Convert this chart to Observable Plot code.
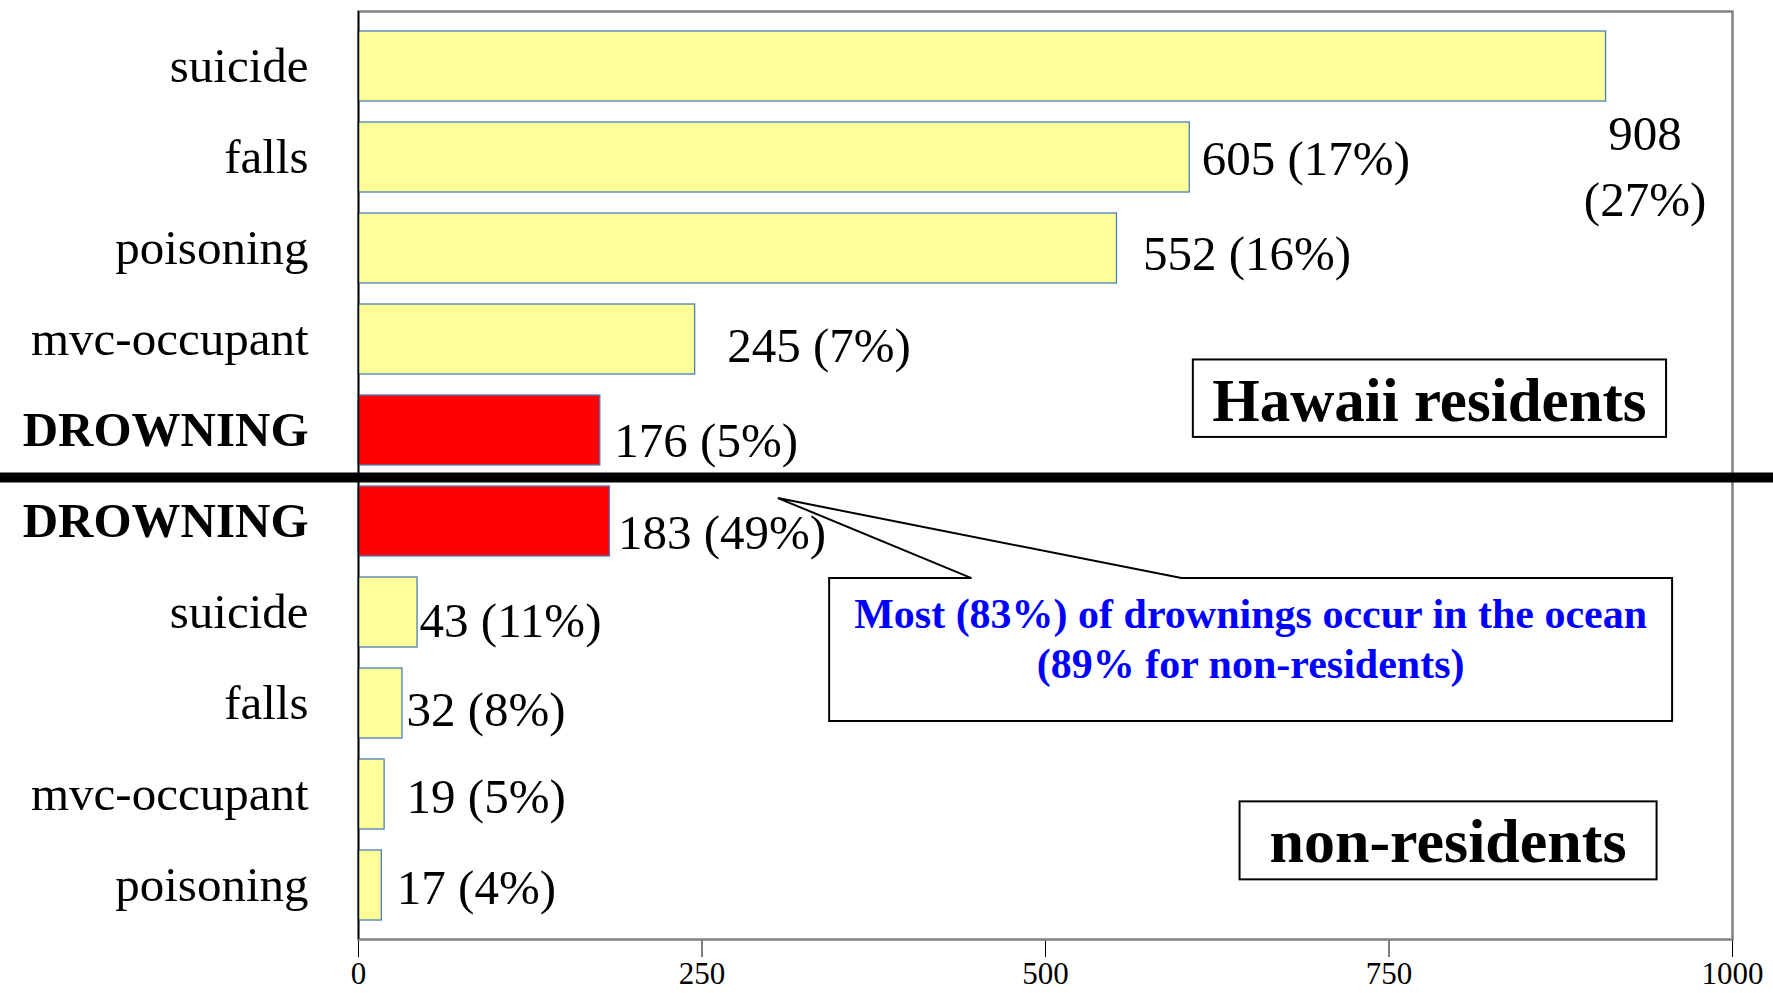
<!DOCTYPE html>
<html>
<head>
<meta charset="utf-8">
<script src="https://cdn.jsdelivr.net/npm/d3@7"></script>
<script src="https://cdn.jsdelivr.net/npm/@observablehq/plot@0.6"></script>
<style>
  html, body { margin: 0; padding: 0; background: #ffffff; }
  svg { display: block; }
</style>
</head>
<body>
<div id="chart"></div>
<script>
// ---- data ----
const residentCauses = ["suicide", "falls", "poisoning", "mvc-occupant", "DROWNING"];
const residentCounts = [908, 605, 552, 245, 176];
const residentPercents = [27, 17, 16, 7, 5];

const nonResidentCauses = ["DROWNING", "suicide", "falls", "mvc-occupant", "poisoning"];
const nonResidentCounts = [183, 43, 32, 19, 17];
const nonResidentPercents = [49, 11, 8, 5, 4];

const xTicks = [0, 250, 500, 750, 1000];
const groupLabels = ["Hawaii residents", "non-residents"];
const noteLines = ["Most (83%) of drownings occur in the ocean", "(89% for non-residents)"];

// ---- table built from the arrays ----
const rows = [
  ...residentCauses.map((c, i) => ({group: "res", cause: c, key: "res|" + c, count: residentCounts[i], pct: residentPercents[i]})),
  ...nonResidentCauses.map((c, i) => ({group: "non", cause: c, key: "non|" + c, count: nonResidentCounts[i], pct: nonResidentPercents[i]}))
];
const keys = rows.map(d => d.key);

// ---- layout (styling only) ----
const FONT = "'Liberation Serif', 'Times New Roman', Times, serif";
const YELLOW = "#ffff99", RED = "#ff0000", EDGE = "#4a7ebb";
// pixel nudges of value labels relative to the bar end / band centre
const labelNudge = [[39, 95], [12, -4], [26, 0], [32, 1], [14, 5], [8, 6], [2, 3], [4, 1], [22, -3], [15, -3]];

function annotations(index, scales, values, dims) {
  const {x, y} = scales;
  const bw = y.bandwidth(), step = y.step();
  const y0 = y(keys[0]) + bw / 2;
  const Y = t => y0 + t * step;          // continuous band index -> pixels
  const g = d3.create("svg:g").attr("font-family", FONT);

  // thick separator between the two groups
  const lastRes = "res|" + residentCauses[residentCauses.length - 1];
  const firstNon = "non|" + nonResidentCauses[0];
  const sepY = (y(lastRes) + bw + y(firstNon)) / 2 + 2;
  g.append("line")
    .attr("x1", 0).attr("x2", dims.width)
    .attr("y1", sepY).attr("y2", sepY)
    .attr("stroke", "black").attr("stroke-width", 10);

  // "Hawaii residents" box
  const hb = {x1: x(607.6), x2: x(952), y1: Y(3.225), y2: Y(4.076)};
  g.append("rect")
    .attr("x", hb.x1).attr("y", hb.y1).attr("width", hb.x2 - hb.x1).attr("height", hb.y2 - hb.y1)
    .attr("fill", "white").attr("stroke", "black").attr("stroke-width", 2);
  g.append("text")
    .attr("x", (hb.x1 + hb.x2) / 2).attr("y", Y(3.902))
    .attr("text-anchor", "middle").attr("font-weight", "bold").attr("font-size", 61)
    .text(groupLabels[0]);

  // "non-residents" box
  const nb = {x1: x(641.6), x2: x(945.1), y1: Y(8.081), y2: Y(8.938)};
  g.append("rect")
    .attr("x", nb.x1).attr("y", nb.y1).attr("width", nb.x2 - nb.x1).attr("height", nb.y2 - nb.y1)
    .attr("fill", "white").attr("stroke", "black").attr("stroke-width", 2);
  g.append("text")
    .attr("x", (nb.x1 + nb.x2) / 2).attr("y", Y(8.752))
    .attr("text-anchor", "middle").attr("font-weight", "bold").attr("font-size", 62)
    .text(groupLabels[1]);

  // callout box pointing at the non-resident drowning bar
  const cb = {x1: x(342.9), x2: x(956.4), y1: Y(5.627), y2: Y(7.199)};
  const tip = [x(305.6), Y(4.748)];
  const baseL = x(446.5), baseR = x(599.3);
  const path = d3.path();
  path.moveTo(cb.x1, cb.y1);
  path.lineTo(baseL, cb.y1);
  path.lineTo(tip[0], tip[1]);
  path.lineTo(baseR, cb.y1);
  path.lineTo(cb.x2, cb.y1);
  path.lineTo(cb.x2, cb.y2);
  path.lineTo(cb.x1, cb.y2);
  path.closePath();
  g.append("path").attr("d", path.toString())
    .attr("fill", "white").attr("stroke", "black").attr("stroke-width", 2)
    .attr("stroke-linejoin", "miter");
  const tBase = [6.176, 6.726];
  noteLines.forEach((line, i) => {
    g.append("text")
      .attr("x", (cb.x1 + cb.x2) / 2).attr("y", Y(tBase[i]))
      .attr("text-anchor", "middle").attr("font-weight", "bold").attr("font-size", 42)
      .attr("fill", "#0000ff")
      .text(line);
  });
  return g.node();
}

const labelMarks = rows.map((d, i) => {
  const special = i === 0; // wrapped label below the longest bar
  return Plot.text([d], {
    x: "count",
    y: "key",
    text: r => special ? `${r.count}\n(${r.pct}%)` : `${r.count} (${r.pct}%)`,
    textAnchor: special ? "middle" : "start",
    lineAnchor: "middle",
    lineHeight: 1.36,
    dx: labelNudge[i][0],
    dy: labelNudge[i][1],
    fontSize: 49,
    fontFamily: FONT,
    fill: "black"
  });
});

const chart = Plot.plot({
  width: 1773,
  height: 993,
  marginLeft: 358,
  marginRight: 41,
  marginTop: 11,
  marginBottom: 54,
  style: {fontFamily: FONT, fontSize: "49px", background: "white", color: "black"},
  x: {
    domain: [0, 1000],
    ticks: xTicks,
    tickFormat: d => String(d),
    tickSize: 18,
    tickPadding: 4,
    label: null
  },
  y: {
    domain: keys,
    paddingInner: 0.231,
    paddingOuter: 0.214,
    tickSize: 0,
    tickPadding: 50,
    tickFormat: k => k.split("|")[1],
    label: null
  },
  marks: [
    Plot.frame({stroke: "#808080", strokeWidth: 2.5}),
    Plot.barX(rows, {
      x: "count",
      y: "key",
      fill: d => d.cause === "DROWNING" ? RED : YELLOW,
      stroke: EDGE,
      strokeWidth: 1.3
    }),
    Plot.ruleX([0], {stroke: "black", strokeWidth: 1.5}),
    annotations,
    ...labelMarks
  ]
});

chart.querySelectorAll('[aria-label^="x-axis"] text').forEach(t => {
  t.style.fontSize = "31px";
  t.style.fontFamily = FONT;
});
chart.querySelectorAll('[aria-label^="y-axis"] text').forEach(t => {
  t.style.fontSize = "49px";
  t.style.fontFamily = FONT;
  if (t.textContent === "DROWNING") t.style.fontWeight = "bold";
});

document.getElementById("chart").appendChild(chart);
</script>
</body>
</html>
